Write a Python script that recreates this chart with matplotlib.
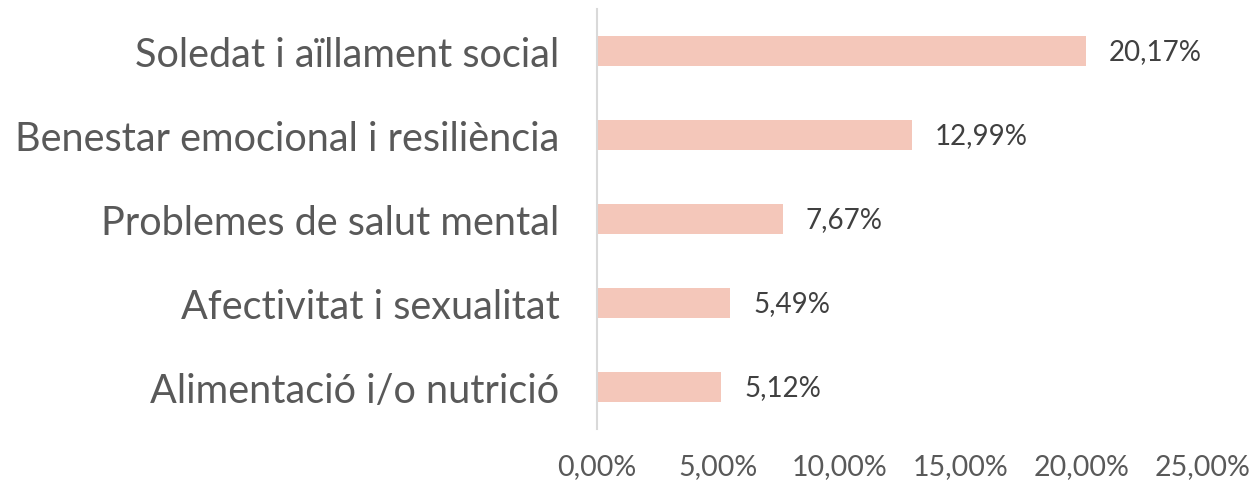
import matplotlib
matplotlib.use('Agg')
import matplotlib.pyplot as plt
from matplotlib.ticker import FuncFormatter

# data
categories = ['Soledat i aïllament social',
              'Benestar emocional i resiliència',
              'Problemes de salut mental',
              'Afectivitat i sexualitat',
              'Alimentació i/o nutrició']
values = [20.17, 12.99, 7.67, 5.49, 5.12]
xticks = [0, 5, 10, 15, 20, 25]

plt.rcParams['font.family'] = ['Lato', 'DejaVu Sans']

fig = plt.figure(figsize=(12.57, 4.85), dpi=100)
ax = fig.add_axes([597 / 1257, 55 / 485, 606 / 1257, 420 / 485])

ypos = list(range(len(categories)))[::-1]
ax.barh(ypos, values, height=0.36, color='#F4C7BA')

# value labels in Catalan number format
for y, v in zip(ypos, values):
    ax.text(v + 0.95, y, f'{v:.2f}%'.replace('.', ','), va='center', ha='left',
            fontsize=20, color='#404040')

ax.set_xlim(0, 25)
ax.set_ylim(-0.5, len(categories) - 0.5)
ax.set_yticks(ypos)
ax.set_yticklabels(categories, fontsize=28.5, color='#595959')
ax.set_xticks(xticks)
ax.xaxis.set_major_formatter(FuncFormatter(lambda x, p: f'{x:.2f}%'.replace('.', ',')))
ax.tick_params(axis='x', labelsize=20.5, labelcolor='#595959', length=0, pad=17)
ax.tick_params(axis='y', length=0, pad=27)

for s in ['top', 'right', 'bottom']:
    ax.spines[s].set_visible(False)
ax.spines['left'].set_color('#D9D9D9')
ax.spines['left'].set_linewidth(1.5)

fig.savefig('out.png', dpi=100)
